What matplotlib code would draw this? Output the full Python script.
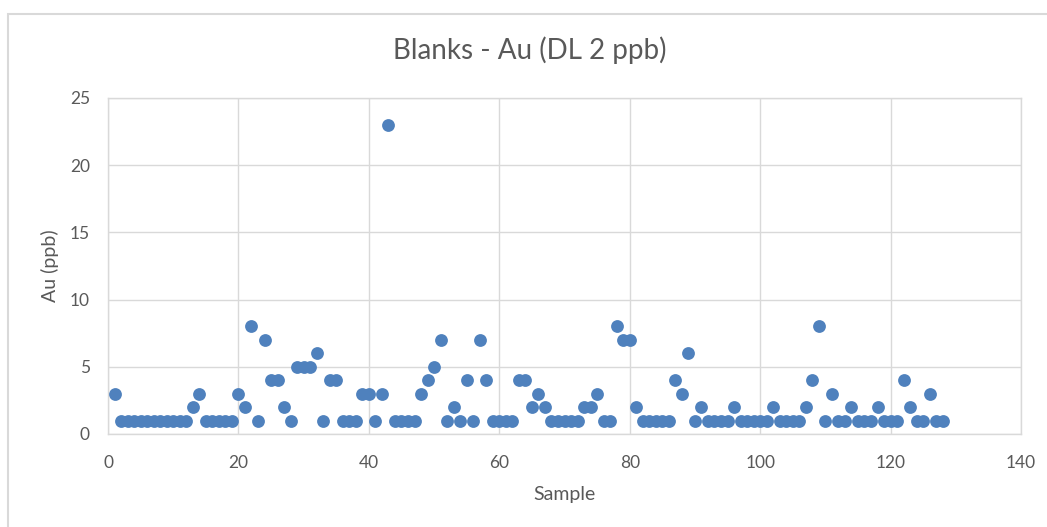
import matplotlib
matplotlib.use("Agg")
import matplotlib.pyplot as plt
from matplotlib.patches import Rectangle

samples = list(range(1, 129))
au_ppb = [
    3, 1, 1, 1, 1, 1, 1, 1, 1, 1,   # 1-10
    1, 1, 2, 3, 1, 1, 1, 1, 1, 3,   # 11-20
    2, 8, 1, 7, 4, 4, 2, 1, 5, 5,   # 21-30
    5, 6, 1, 4, 4, 1, 1, 1, 3, 3,   # 31-40
    1, 3, 23, 1, 1, 1, 1, 3, 4, 5,  # 41-50
    7, 1, 2, 1, 4, 1, 7, 4, 1, 1,   # 51-60
    1, 1, 4, 4, 2, 3, 2, 1, 1, 1,   # 61-70
    1, 1, 2, 2, 3, 1, 1, 8, 7, 7,   # 71-80
    2, 1, 1, 1, 1, 1, 4, 3, 6, 1,   # 81-90
    2, 1, 1, 1, 1, 2, 1, 1, 1, 1,   # 91-100
    1, 2, 1, 1, 1, 1, 2, 4, 8, 1,   # 101-110
    3, 1, 1, 2, 1, 1, 1, 2, 1, 1,   # 111-120
    1, 4, 2, 1, 1, 3, 1, 1,         # 121-128
]
x_ticks = [0, 20, 40, 60, 80, 100, 120, 140]
y_ticks = [0, 5, 10, 15, 20, 25]
title = "Blanks - Au (DL 2 ppb)"
x_label = "Sample"
y_label = "Au (ppb)"

plt.rcParams['font.family'] = ['Lato', 'DejaVu Sans']
text_col = "#595959"
grid_col = "#d9d9d9"

fig = plt.figure(figsize=(10.47, 5.27), dpi=100)
fig.patch.set_facecolor("white")
W, H = 1047, 527
# outer chart border
fig.patches.append(Rectangle((8 / W, -0.1), 1.2, (527 - 14) / H + 0.1,
                             transform=fig.transFigure, fill=False,
                             edgecolor="#d9d9d9", linewidth=1.5, zorder=0))

ax = fig.add_axes([108 / W, (H - 434) / H, (1021 - 108) / W, (434 - 98) / H])
ax.scatter(samples, au_ppb, s=85, color="#4f81bd", zorder=3, linewidths=0)
ax.set_xlim(0, 140)
ax.set_ylim(0, 25)
ax.set_xticks(x_ticks)
ax.set_yticks(y_ticks)
ax.grid(True, color=grid_col, linewidth=1)
ax.set_axisbelow(True)
for s in ax.spines.values():
    s.set_color(grid_col)
    s.set_linewidth(1)
ax.tick_params(length=0, labelsize=12.5, labelcolor=text_col)
ax.tick_params(axis='x', pad=15)
ax.tick_params(axis='y', pad=13)
ax.set_xlabel(x_label, fontsize=14, color=text_col, labelpad=11)
ax.set_ylabel(y_label, fontsize=14, color=text_col, labelpad=8)
fig.text(530 / W, 1 - 50 / H, title, ha="center", va="center",
         fontsize=20, color=text_col)

fig.savefig("out.png", dpi=100, facecolor="white")
